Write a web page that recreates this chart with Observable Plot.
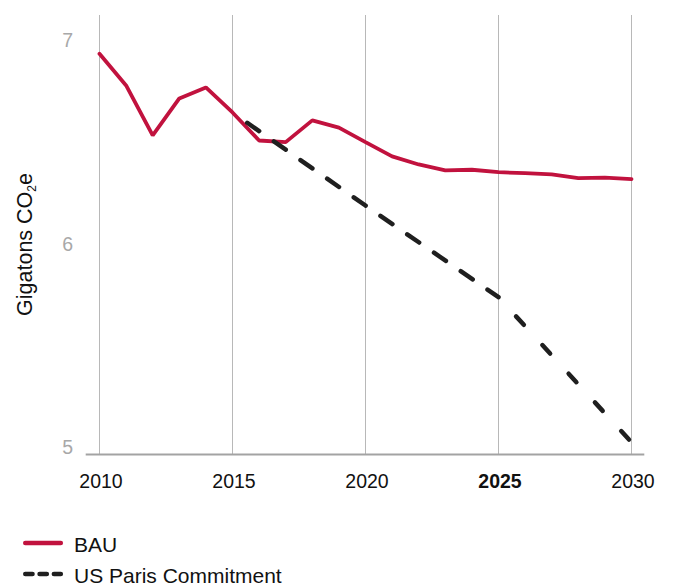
<!DOCTYPE html>
<html><head><meta charset="utf-8">
<script src="https://cdn.jsdelivr.net/npm/d3@7"></script>
<script src="https://cdn.jsdelivr.net/npm/@observablehq/plot@0.6"></script>
<style>
body{margin:0;background:#fff;font-family:"Liberation Sans",Arial,sans-serif}
svg{display:block}
</style>
</head><body><div id="chart"></div><script>
// ---- data ----
const years = [2010,2011,2012,2013,2014,2015,2016,2017,2018,2019,2020,2021,2022,2023,2024,2025,2026,2027,2028,2029,2030];
const bau = [6.972,6.816,6.570,6.752,6.806,6.683,6.545,6.537,6.644,6.608,6.537,6.467,6.427,6.398,6.401,6.389,6.384,6.378,6.360,6.362,6.355];
const parisYears = [2015,2020,2025,2030];
const paris = [6.683,6.225,5.774,5.060];
const xTicks = [2010,2015,2020,2025,2030];
const yTicks = [5,6,7];
const seriesNames = ["BAU","US Paris Commitment"];
const yTitle = "Gigatons CO2e";

const bauData = years.map((y,i)=>({year:y, value:bau[i]}));
const parisData = parisYears.map((y,i)=>({year:y, value:paris[i]}));
const RED = "#c1123e", BLACK = "#1f1f1f";
const FONT = "Liberation Sans, Arial, sans-serif";

const chart = Plot.plot({
  width: 673, height: 505,
  marginTop: 15, marginBottom: 51, marginLeft: 99, marginRight: 42,
  style: {fontFamily: FONT, background: "white"},
  x: {domain: [2010, 2030], axis: null},
  y: {domain: [5, 7.16], axis: null},
  marks: [
    Plot.ruleX(xTicks, {x: d=>d, stroke: "#b8b8b8", strokeWidth: 1}),
    Plot.ruleY([5], {y: d=>d, x1: 2009.5, x2: 2030.5, stroke: "#a3a3a3", strokeWidth: 2.2}),
    Plot.line(bauData, {x: "year", y: "value", stroke: RED, strokeWidth: 3.8, strokeLinejoin: "miter"}),
    Plot.line(parisData.filter(d=>d.year<=2025), {x: "year", y: "value", stroke: BLACK, strokeWidth: 4.5,
      strokeLinecap: "round", strokeDasharray: "14.5,18", strokeDashoffset: 14.5}),
    Plot.line(parisData.filter(d=>d.year>=2025), {x: "year", y: "value", stroke: BLACK, strokeWidth: 4.5,
      strokeLinecap: "round", strokeDasharray: "11.5,27.4", strokeDashoffset: 12.9}),
    Plot.text(xTicks.filter(d=>d!==2025), {x: d=>d, text: d=>String(d), frameAnchor: "bottom", lineAnchor: "top",
      dy: 20, dx: 1.5, fontSize: 19.5, fill: "#111"}),
    Plot.text(xTicks.filter(d=>d===2025), {x: d=>d, text: d=>String(d), frameAnchor: "bottom", lineAnchor: "top",
      dy: 20, dx: 1.5, fontSize: 19.5, fontWeight: "bold", fill: "#111"}),
    Plot.text(yTicks, {y: d=>d, text: d=>String(d), frameAnchor: "left", textAnchor: "end",
      dx: -26.5, dy: -7, fontSize: 19.5, fill: "#a8a8a8"}),
    Plot.text([yTitle], {text: d=>d, frameAnchor: "left", rotate: -90, textAnchor: "middle", lineAnchor: "bottom",
      dx: -68, dy: 9.5, fontSize: 21.5, fill: "#111"})
  ]
});
document.getElementById("chart").appendChild(chart);

// subscript for CO2
d3.select(chart).selectAll("text").filter(function(){ return this.textContent === yTitle; }).each(function(){
  const t = d3.select(this);
  t.text(null);
  t.append("tspan").text("Gigatons CO");
  t.append("tspan").attr("font-size", "12px").attr("dy", "4").text("2");
  t.append("tspan").attr("dy", "-4").text("e");
});

// legend
const leg = d3.select("body").append("svg").attr("width", 673).attr("height", 83)
  .style("font-family", FONT);
const rows = leg.selectAll("g").data(seriesNames).join("g")
  .attr("transform", (d,i)=>`translate(0,${i===0?38:69})`);
rows.append("line").attr("x1", 25.3).attr("x2", 60.8).attr("y1", 0).attr("y2", 0)
  .attr("stroke", (d,i)=>i===0?RED:BLACK).attr("stroke-width", 4.6).attr("stroke-linecap", "round")
  .attr("stroke-dasharray", (d,i)=>i===0?null:"7.2,7.1");
rows.append("text").attr("x", 74).attr("y", 8.5).attr("font-size", 21).attr("fill", "#111").text(d=>d);
</script></body></html>
